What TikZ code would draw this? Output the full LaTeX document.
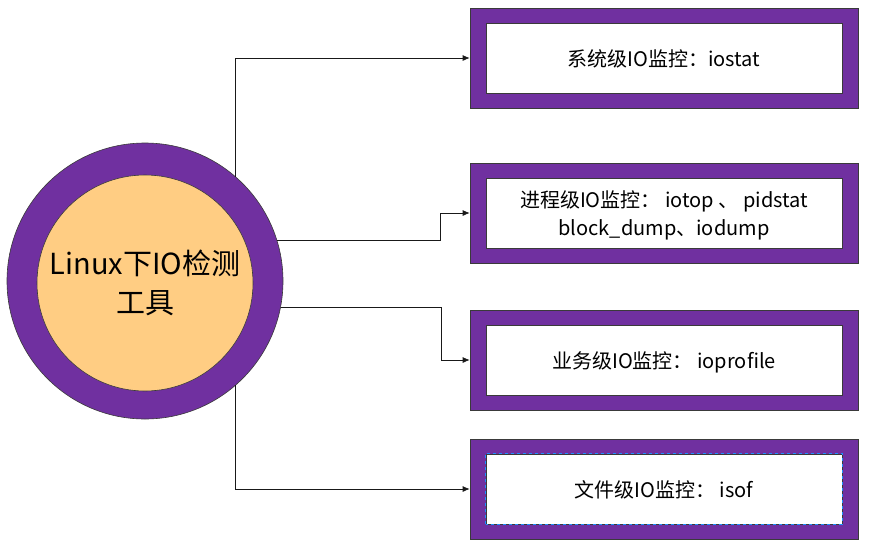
\documentclass[tikz,border=0pt]{standalone}
\usepackage{fontspec}
\usepackage{tikz}
\usetikzlibrary{calc}
\usetikzlibrary{shapes,arrows,arrows.meta}
\newfontfamily\cjk{Noto Sans CJK SC}
\definecolor{ringpurple}{HTML}{7030A0}
\definecolor{coreorange}{HTML}{FFCD83}
\definecolor{edgegray}{HTML}{3A3A3A}
\definecolor{selblue}{HTML}{1E90FF}

\begin{document}
\begin{tikzpicture}[x=1pt,y=-1pt]
			\tikzstyle{every node}=[font=\cjk, inner sep=0pt]
			\tikzstyle{ring}=[circle, draw=edgegray, line width=0.6pt, fill=ringpurple, minimum size=276pt]
			\tikzstyle{core}=[circle, draw=edgegray, line width=0.6pt, fill=coreorange, minimum size=216pt, align=center, font=\cjk\fontsize{29}{39}\selectfont]
			\tikzstyle{levelbox}=[rectangle, draw=edgegray, line width=0.7pt, fill=ringpurple, minimum width=388pt, minimum height=100pt]
			\tikzstyle{leveltext}=[rectangle, draw=edgegray, line width=0.7pt, fill=white, minimum width=356pt, minimum height=70pt, align=center, font=\cjk\fontsize{20}{28}\selectfont, text depth=0pt]
			\tikzstyle{link}=[line width=0.7pt, color=black!90, -{Latex[length=7pt,width=6pt]}]
			\useasboundingbox (0,0) rectangle (870,547);
			
			\node[ring] (tool) at (145,281) {};
			\node[core] (toolcore) at (145,283) {Linux下IO检测\\工具};
			
			\node[levelbox] (sys) at (664,58) {};
			\node[leveltext] (systext) at (sys) {系统级IO监控：iostat};
			
			\node[levelbox] (proc) at (664,213) {};
			\node[leveltext] (proctext) at (proc) {进程级IO监控： iotop 、 pidstat\\block\_dump、iodump};
			
			\node[levelbox] (app) at (664,360) {};
			\node[leveltext] (apptext) at (app) {业务级IO监控： ioprofile};
			
			\node[levelbox] (file) at (664,489) {};
			\node[leveltext] (filetext) at (file) {文件级IO监控： isof};
			\draw[selblue, dashed, line width=0.7pt] (filetext.south west) rectangle (filetext.north east);
			
			\draw[link] (tool.49.4) |- (sys.west);
			\draw[link] (tool.17.7) -| ([xshift=-29pt]proc.west) -- (proc.west);
			\draw[link] (tool.-11.3) -| ([xshift=-28pt]app.west) -- (app.west);
			\draw[link] (tool.-49.4) |- (file.west);
			
\end{tikzpicture}
\end{document}
